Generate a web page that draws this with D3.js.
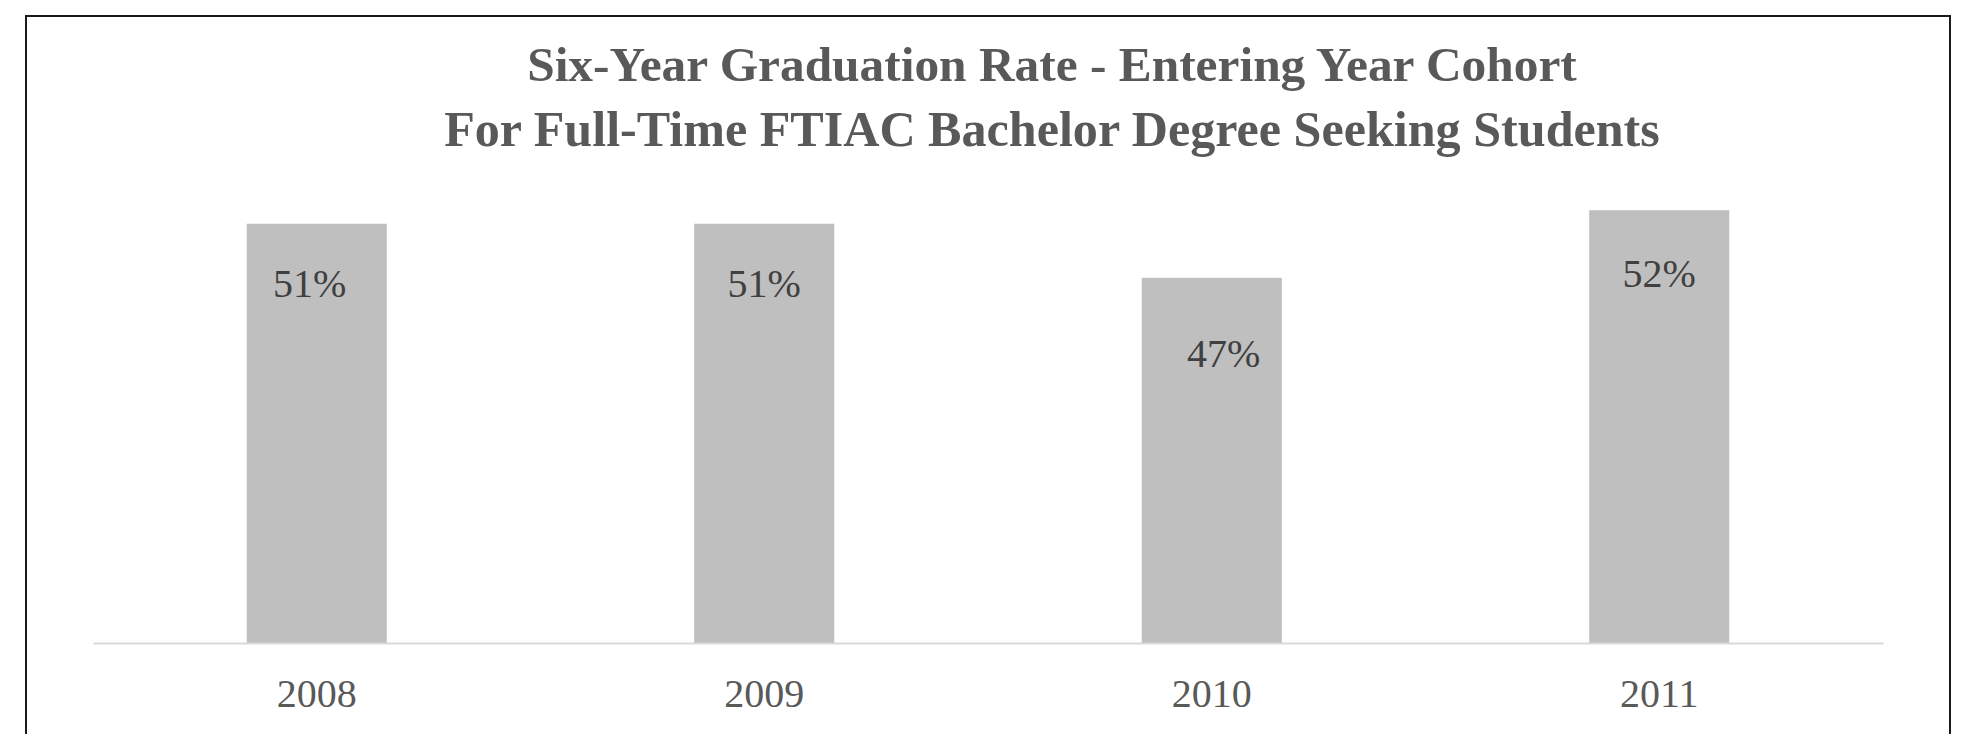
<!DOCTYPE html>
<html>
<head>
<meta charset="utf-8">
<script src="https://cdn.jsdelivr.net/npm/d3@7/dist/d3.min.js"></script>
<style>
  html, body { margin: 0; padding: 0; background: #fff; }
  svg { display: block; }
</style>
</head>
<body>
<svg id="chart" width="1965" height="734"></svg>
<script>
const years = ["2008", "2009", "2010", "2011"];
const rates = [51, 51, 47, 52];
const dataLabels = ["51%", "51%", "47%", "52%"];
const titleLines = [
  "Six-Year Graduation Rate - Entering Year Cohort",
  "For Full-Time FTIAC Bachelor Degree Seeking Students"
];
const yDomain = [20, 60];

// manual label nudges (as positioned in the original chart)
const labelDx = [-7, 0, 12, 0];
const labelDy = [73, 73, 89, 77];

const W = 1965, H = 734;
const svg = d3.select("#chart");
const serif = "'Liberation Serif', 'DejaVu Serif', serif";

// outer frame
svg.append("rect")
  .attr("x", 26).attr("y", 16)
  .attr("width", 1924).attr("height", 760)
  .attr("fill", "none").attr("stroke", "#1a1a1a").attr("stroke-width", 2);

const plot = { left: 93, right: 1883, top: 102, bottom: 643 };

const x = d3.scaleBand()
  .domain(years)
  .range([plot.left, plot.right])
  .paddingInner(0.687)
  .paddingOuter(0.3435);

const y = d3.scaleLinear().domain(yDomain).range([plot.bottom, plot.top]);

// bars
svg.append("g").selectAll("rect")
  .data(years)
  .join("rect")
  .attr("x", d => x(d))
  .attr("y", (d, i) => y(rates[i]))
  .attr("width", x.bandwidth())
  .attr("height", (d, i) => y(yDomain[0]) - y(rates[i]))
  .attr("fill", "#bfbfbf");

// x axis
const xAxis = svg.append("g")
  .attr("transform", `translate(0,${plot.bottom})`)
  .call(d3.axisBottom(x).tickSize(0).tickPadding(64));
xAxis.select(".domain").attr("stroke", "#d9d9d9").attr("stroke-width", 2);
xAxis.selectAll("text")
  .attr("font-family", serif)
  .attr("font-size", 40)
  .attr("fill", "#595959")
  .attr("dy", 0);

// data labels
svg.append("g").selectAll("text")
  .data(years)
  .join("text")
  .attr("x", (d, i) => x(d) + x.bandwidth() / 2 + labelDx[i])
  .attr("y", (d, i) => y(rates[i]) + labelDy[i])
  .attr("text-anchor", "middle")
  .attr("font-family", serif)
  .attr("font-size", 40)
  .attr("fill", "#404040")
  .text((d, i) => dataLabels[i]);

// title
const titleTargets = [1050, 1216];
const titleBaselines = [81, 146];
titleLines.forEach((t, i) => {
  const el = svg.append("text")
    .attr("x", 1052)
    .attr("y", titleBaselines[i])
    .attr("text-anchor", "middle")
    .attr("font-family", serif)
    .attr("font-weight", "bold")
    .attr("font-size", 46)
    .attr("fill", "#595959")
    .text(t);
  const w = el.node().getComputedTextLength();
  el.attr("font-size", 46 * titleTargets[i] / w);
});
</script>
</body>
</html>
